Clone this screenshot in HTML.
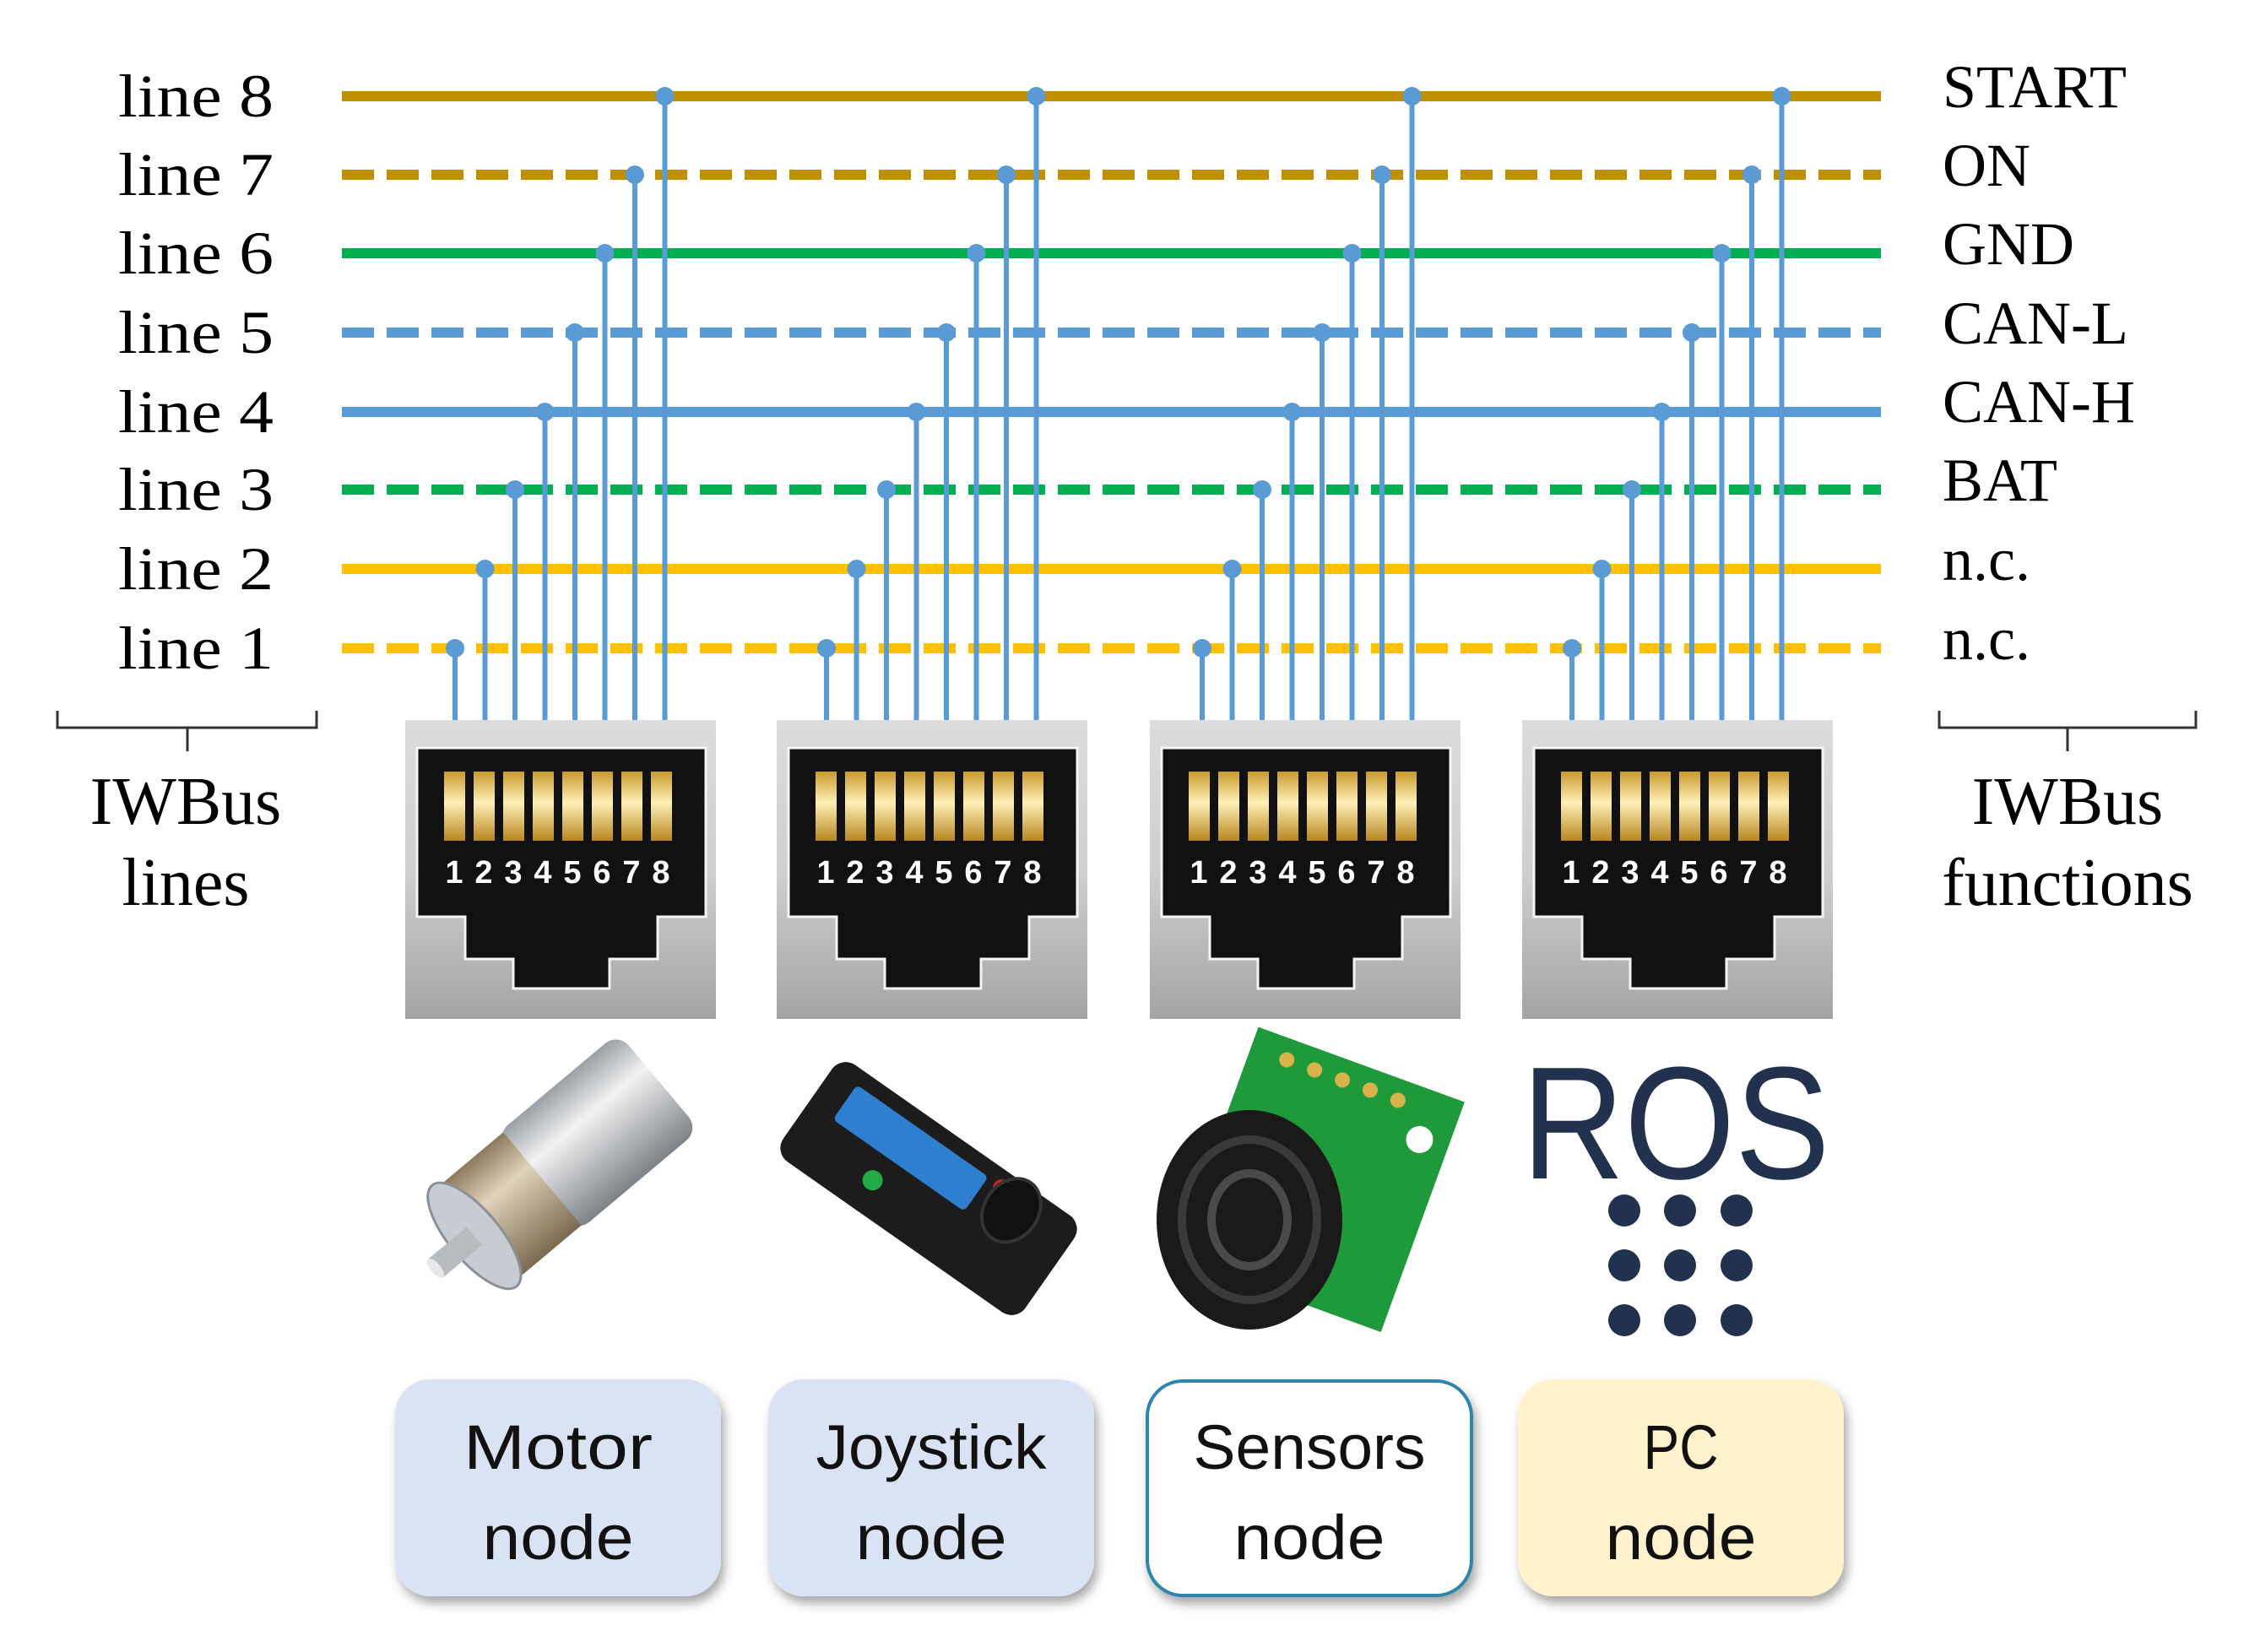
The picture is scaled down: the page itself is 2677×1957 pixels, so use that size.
<!DOCTYPE html>
<html><head><meta charset="utf-8"><style>
html,body{margin:0;padding:0;background:#fff}
svg{display:block}
.lbl{font-family:"Liberation Serif",serif;font-size:72px;fill:#000}
.nd{font-family:"Liberation Sans",sans-serif;font-size:74px;fill:#111;text-anchor:middle}
.pn{font-family:"Liberation Sans",sans-serif;font-weight:bold;font-size:38px;fill:#fff;text-anchor:middle}
</style></head><body>
<svg width="2677" height="1957" viewBox="0 0 2677 1957" xmlns="http://www.w3.org/2000/svg">
<defs>
<linearGradient id="gb" x1="0" y1="0" x2="0" y2="1"><stop offset="0" stop-color="#dcdcdc"/><stop offset="0.5" stop-color="#cfcfcf"/><stop offset="1" stop-color="#a4a4a4"/></linearGradient>
<linearGradient id="gp" x1="0" y1="0" x2="0" y2="1"><stop offset="0" stop-color="#c99a2e"/><stop offset="0.45" stop-color="#fff1b8"/><stop offset="1" stop-color="#b8861f"/></linearGradient>
<linearGradient id="cyl" x1="0" y1="0" x2="0" y2="1"><stop offset="0" stop-color="#9aa0a6"/><stop offset="0.35" stop-color="#f2f2f2"/><stop offset="1" stop-color="#7d8288"/></linearGradient>
<linearGradient id="cylg" x1="0" y1="0" x2="0" y2="1"><stop offset="0" stop-color="#8c7a5e"/><stop offset="0.35" stop-color="#e0d3bb"/><stop offset="1" stop-color="#7a6a50"/></linearGradient>
<filter id="sh" x="-10%" y="-10%" width="130%" height="130%"><feDropShadow dx="4" dy="8" stdDeviation="6" flood-color="#000" flood-opacity="0.35"/></filter>
</defs>

<g stroke-width="12" fill="none">
<line x1="405" y1="114" x2="2228" y2="114" stroke="#BF8F00"/>
<line x1="405" y1="207" x2="2228" y2="207" stroke="#BF8F00" stroke-dasharray="38 15"/>
<line x1="405" y1="300" x2="2228" y2="300" stroke="#00B050"/>
<line x1="405" y1="394" x2="2228" y2="394" stroke="#5B9BD5" stroke-dasharray="38 15"/>
<line x1="405" y1="488" x2="2228" y2="488" stroke="#5B9BD5"/>
<line x1="405" y1="580" x2="2228" y2="580" stroke="#00B050" stroke-dasharray="38 15"/>
<line x1="405" y1="674" x2="2228" y2="674" stroke="#FFC000"/>
<line x1="405" y1="768" x2="2228" y2="768" stroke="#FFC000" stroke-dasharray="38 15"/>
</g>

<g stroke="#5B9BD5" stroke-width="6" fill="none">
<path d="M539 856V768M574.5 856V674M610 856V580M645.5 856V488M681 856V394M716.5 856V300M752 856V207M787.5 856V114"/>
<path d="M979 856V768M1014.5 856V674M1050 856V580M1085.5 856V488M1121 856V394M1156.5 856V300M1192 856V207M1227.5 856V114"/>
<path d="M1424 856V768M1459.5 856V674M1495 856V580M1530.5 856V488M1566 856V394M1601.5 856V300M1637 856V207M1672.5 856V114"/>
<path d="M1862 856V768M1897.5 856V674M1933 856V580M1968.5 856V488M2004 856V394M2039.5 856V300M2075 856V207M2110.5 856V114"/>
</g>
<g fill="#5B9BD5">
<circle cx="539" cy="768" r="11"/><circle cx="574.5" cy="674" r="11"/><circle cx="610" cy="580" r="11"/><circle cx="645.5" cy="488" r="11"/><circle cx="681" cy="394" r="11"/><circle cx="716.5" cy="300" r="11"/><circle cx="752" cy="207" r="11"/><circle cx="787.5" cy="114" r="11"/>
<circle cx="979" cy="768" r="11"/><circle cx="1014.5" cy="674" r="11"/><circle cx="1050" cy="580" r="11"/><circle cx="1085.5" cy="488" r="11"/><circle cx="1121" cy="394" r="11"/><circle cx="1156.5" cy="300" r="11"/><circle cx="1192" cy="207" r="11"/><circle cx="1227.5" cy="114" r="11"/>
<circle cx="1424" cy="768" r="11"/><circle cx="1459.5" cy="674" r="11"/><circle cx="1495" cy="580" r="11"/><circle cx="1530.5" cy="488" r="11"/><circle cx="1566" cy="394" r="11"/><circle cx="1601.5" cy="300" r="11"/><circle cx="1637" cy="207" r="11"/><circle cx="1672.5" cy="114" r="11"/>
<circle cx="1862" cy="768" r="11"/><circle cx="1897.5" cy="674" r="11"/><circle cx="1933" cy="580" r="11"/><circle cx="1968.5" cy="488" r="11"/><circle cx="2004" cy="394" r="11"/><circle cx="2039.5" cy="300" r="11"/><circle cx="2075" cy="207" r="11"/><circle cx="2110.5" cy="114" r="11"/>
</g>

<g transform="translate(480,853)">
<rect x="0" y="0" width="368" height="354" fill="url(#gb)"/>
<path d="M14 33H356V233H299V283H242V318H128V283H71V233H14Z" fill="#111" stroke="#f4f4f4" stroke-width="3"/>
<g fill="url(#gp)"><rect x="46" y="61" width="25" height="82"/><rect x="81" y="61" width="25" height="82"/><rect x="116" y="61" width="25" height="82"/><rect x="151" y="61" width="25" height="82"/><rect x="186" y="61" width="25" height="82"/><rect x="221" y="61" width="25" height="82"/><rect x="256" y="61" width="25" height="82"/><rect x="291" y="61" width="25" height="82"/></g>
<text class="pn" y="193"><tspan x="58">1</tspan><tspan x="93">2</tspan><tspan x="128">3</tspan><tspan x="163">4</tspan><tspan x="198">5</tspan><tspan x="233">6</tspan><tspan x="268">7</tspan><tspan x="303">8</tspan></text>
</g>
<g transform="translate(920,853)">
<rect x="0" y="0" width="368" height="354" fill="url(#gb)"/>
<path d="M14 33H356V233H299V283H242V318H128V283H71V233H14Z" fill="#111" stroke="#f4f4f4" stroke-width="3"/>
<g fill="url(#gp)"><rect x="46" y="61" width="25" height="82"/><rect x="81" y="61" width="25" height="82"/><rect x="116" y="61" width="25" height="82"/><rect x="151" y="61" width="25" height="82"/><rect x="186" y="61" width="25" height="82"/><rect x="221" y="61" width="25" height="82"/><rect x="256" y="61" width="25" height="82"/><rect x="291" y="61" width="25" height="82"/></g>
<text class="pn" y="193"><tspan x="58">1</tspan><tspan x="93">2</tspan><tspan x="128">3</tspan><tspan x="163">4</tspan><tspan x="198">5</tspan><tspan x="233">6</tspan><tspan x="268">7</tspan><tspan x="303">8</tspan></text>
</g>
<g transform="translate(1362,853)">
<rect x="0" y="0" width="368" height="354" fill="url(#gb)"/>
<path d="M14 33H356V233H299V283H242V318H128V283H71V233H14Z" fill="#111" stroke="#f4f4f4" stroke-width="3"/>
<g fill="url(#gp)"><rect x="46" y="61" width="25" height="82"/><rect x="81" y="61" width="25" height="82"/><rect x="116" y="61" width="25" height="82"/><rect x="151" y="61" width="25" height="82"/><rect x="186" y="61" width="25" height="82"/><rect x="221" y="61" width="25" height="82"/><rect x="256" y="61" width="25" height="82"/><rect x="291" y="61" width="25" height="82"/></g>
<text class="pn" y="193"><tspan x="58">1</tspan><tspan x="93">2</tspan><tspan x="128">3</tspan><tspan x="163">4</tspan><tspan x="198">5</tspan><tspan x="233">6</tspan><tspan x="268">7</tspan><tspan x="303">8</tspan></text>
</g>
<g transform="translate(1803,853)">
<rect x="0" y="0" width="368" height="354" fill="url(#gb)"/>
<path d="M14 33H356V233H299V283H242V318H128V283H71V233H14Z" fill="#111" stroke="#f4f4f4" stroke-width="3"/>
<g fill="url(#gp)"><rect x="46" y="61" width="25" height="82"/><rect x="81" y="61" width="25" height="82"/><rect x="116" y="61" width="25" height="82"/><rect x="151" y="61" width="25" height="82"/><rect x="186" y="61" width="25" height="82"/><rect x="221" y="61" width="25" height="82"/><rect x="256" y="61" width="25" height="82"/><rect x="291" y="61" width="25" height="82"/></g>
<text class="pn" y="193"><tspan x="58">1</tspan><tspan x="93">2</tspan><tspan x="128">3</tspan><tspan x="163">4</tspan><tspan x="198">5</tspan><tspan x="233">6</tspan><tspan x="268">7</tspan><tspan x="303">8</tspan></text>
</g>

<g class="lbl">
<text x="140" y="138" textLength="184" lengthAdjust="spacingAndGlyphs">line 8</text>
<text x="140" y="231" textLength="184" lengthAdjust="spacingAndGlyphs">line 7</text>
<text x="140" y="324" textLength="184" lengthAdjust="spacingAndGlyphs">line 6</text>
<text x="140" y="418" textLength="184" lengthAdjust="spacingAndGlyphs">line 5</text>
<text x="140" y="512" textLength="184" lengthAdjust="spacingAndGlyphs">line 4</text>
<text x="140" y="604" textLength="184" lengthAdjust="spacingAndGlyphs">line 3</text>
<text x="140" y="698" textLength="184" lengthAdjust="spacingAndGlyphs">line 2</text>
<text x="140" y="792" textLength="184" lengthAdjust="spacingAndGlyphs">line 1</text>
</g>
<g class="lbl">
<text x="2301" y="127">START</text>
<text x="2301" y="220">ON</text>
<text x="2301" y="313">GND</text>
<text x="2301" y="407">CAN-L</text>
<text x="2301" y="500">CAN-H</text>
<text x="2301" y="593">BAT</text>
<text x="2301" y="687">n.c.</text>
<text x="2301" y="781">n.c.</text>
</g>

<g stroke="#333" stroke-width="3" fill="none">
<path d="M68 842V862H375V842M222 862V890"/>
<path d="M2297 842V862H2601V842M2449 862V890"/>
</g>
<g class="lbl" text-anchor="middle" style="font-size:80px">
<text x="220" y="976">IWBus</text>
<text x="220" y="1072">lines</text>
<text x="2449" y="976">IWBus</text>
<text x="2449" y="1072">functions</text>
</g>

<g transform="translate(650,1390) rotate(-40)">
<rect x="-20" y="-75" width="190" height="150" rx="20" fill="url(#cyl)"/>
<rect x="-110" y="-72" width="100" height="144" fill="url(#cylg)"/>
<ellipse cx="-115" cy="0" rx="30" ry="78" fill="#c7ccd2" stroke="#8a9096" stroke-width="3"/>
<rect x="-175" y="-14" width="60" height="28" fill="#b8bcc1"/>
<ellipse cx="-175" cy="0" rx="6" ry="14" fill="#e8e8e8"/>
</g>
<g transform="translate(1100,1408) rotate(35)">
<rect x="-175" y="-70" width="350" height="140" rx="20" fill="#1c1c1c"/>
<rect x="-140" y="-52" width="190" height="50" rx="6" fill="#2f7fd0"/>
<circle cx="-60" cy="30" r="12" fill="#22aa44"/>
<circle cx="70" cy="-50" r="10" fill="#cc2222"/>
<ellipse cx="95" cy="-35" rx="32" ry="40" fill="#111" stroke="#333" stroke-width="4"/>
</g>
<g transform="translate(1555,1405) rotate(20)">
<rect x="-125" y="-155" width="260" height="290" fill="#1e9a3a"/>
<circle cx="100" cy="-95" r="16" fill="#fff"/>
<g fill="#d8b34a"><circle cx="-80" cy="-130" r="9"/><circle cx="-45" cy="-130" r="9"/><circle cx="-10" cy="-130" r="9"/><circle cx="25" cy="-130" r="9"/><circle cx="60" cy="-130" r="9"/></g>
</g>
<ellipse cx="1480" cy="1445" rx="110" ry="130" fill="#1a1a1a"/>
<ellipse cx="1480" cy="1445" rx="80" ry="95" fill="none" stroke="#3a3a3a" stroke-width="10"/>
<ellipse cx="1480" cy="1445" rx="45" ry="55" fill="none" stroke="#4a4a4a" stroke-width="10"/>
<text x="1985" y="1396" text-anchor="middle" font-family="Liberation Sans,sans-serif" font-size="190" fill="#22314E" textLength="365" lengthAdjust="spacingAndGlyphs">ROS</text>
<g fill="#22314E">
<circle cx="1924" cy="1434" r="19"/><circle cx="1990" cy="1434" r="19"/><circle cx="2057" cy="1434" r="19"/>
<circle cx="1924" cy="1499" r="19"/><circle cx="1990" cy="1499" r="19"/><circle cx="2057" cy="1499" r="19"/>
<circle cx="1924" cy="1564" r="19"/><circle cx="1990" cy="1564" r="19"/><circle cx="2057" cy="1564" r="19"/>
</g>

<g filter="url(#sh)">
<rect x="468" y="1634" width="386" height="257" rx="42" fill="#DAE3F3"/>
<rect x="910" y="1634" width="386" height="257" rx="42" fill="#DAE3F3"/>
<rect x="1359" y="1636" width="384" height="254" rx="42" fill="#fff" stroke="#2E86AB" stroke-width="4"/>
<rect x="1798" y="1634" width="386" height="257" rx="42" fill="#FFF2CC"/>
</g>
<text class="nd" x="661" y="1740" textLength="224" lengthAdjust="spacingAndGlyphs">Motor</text><text class="nd" x="661" y="1847" textLength="179" lengthAdjust="spacingAndGlyphs">node</text>
<text class="nd" x="1103" y="1740" textLength="273" lengthAdjust="spacingAndGlyphs">Joystick</text><text class="nd" x="1103" y="1847" textLength="179" lengthAdjust="spacingAndGlyphs">node</text>
<text class="nd" x="1551" y="1740" textLength="275" lengthAdjust="spacingAndGlyphs">Sensors</text><text class="nd" x="1551" y="1847" textLength="179" lengthAdjust="spacingAndGlyphs">node</text>
<text class="nd" x="1991" y="1740" textLength="89" lengthAdjust="spacingAndGlyphs">PC</text><text class="nd" x="1991" y="1847" textLength="179" lengthAdjust="spacingAndGlyphs">node</text>
</svg>
</body></html>
